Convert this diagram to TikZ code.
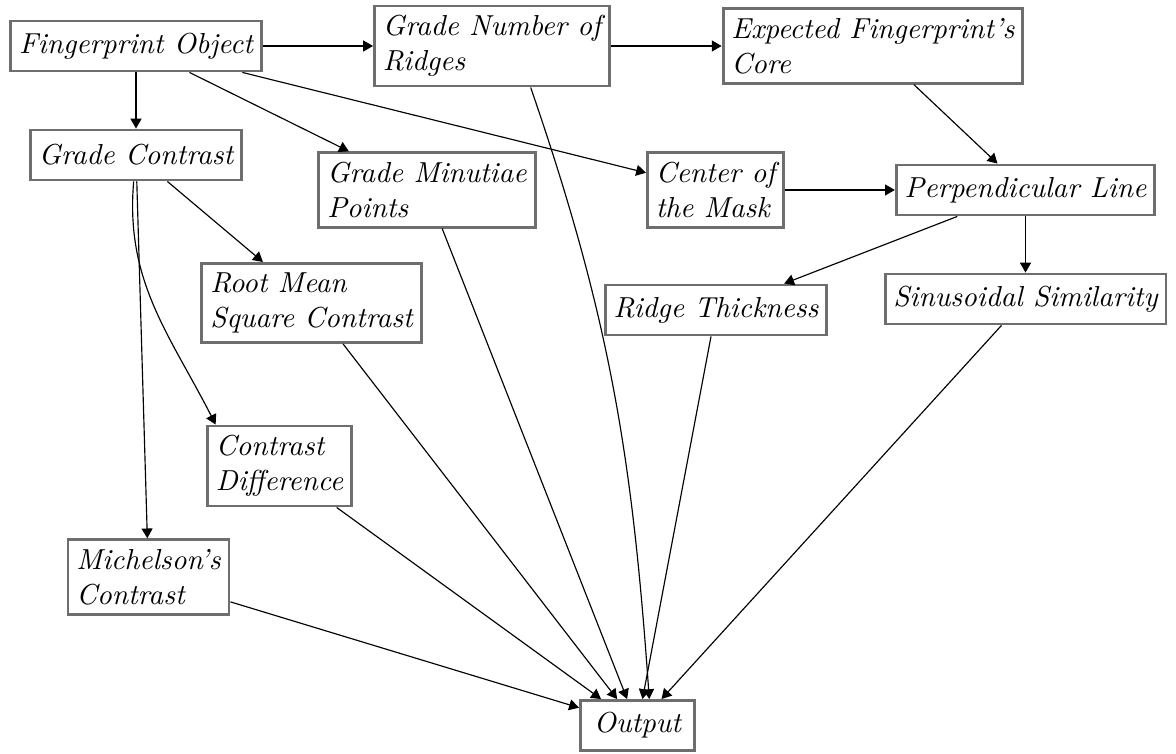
\documentclass[tikz,border=0pt]{standalone}
\usepackage{tikz}
\usetikzlibrary{arrows.meta}
\definecolor{boxgray}{RGB}{110,110,110}

\begin{document}
\begin{tikzpicture}[x=0.346pt,y=-0.346pt,font=\itshape,
  block/.style={rectangle,draw=boxgray,line width=1pt,align=left,inner xsep=2.9pt,inner ysep=3.3pt,minimum height=17.3pt},
  arrow/.style={-{Triangle[length=3.4pt,width=3.8pt]},line width=0.4pt}
]
\useasboundingbox (0,0) rectangle (1176,754);
\node[block] (fpo) at (136,46) {Fingerprint Object};
\node[block] (gnr) at (492,46) {Grade Number of\\Ridges};
\node[block] (efc) at (873,46) {Expected Fingerprint's\\Core};
\node[block] (gc) at (136,155) {Grade Contrast};
\node[block] (gmp) at (427,190) {Grade Minutiae\\Points};
\node[block] (cm) at (715.5,190) {Center of\\the Mask};
\node[block] (pl) at (1025.5,190) {Perpendicular Line};
\node[block] (rms) at (311.5,303) {Root Mean\\Square Contrast};
\node[block] (rt) at (716,310) {Ridge Thickness};
\node[block] (ss) at (1025.5,299) {Sinusoidal Similarity};
\node[block] (cd) at (279.5,466) {Contrast\\Difference};
\node[block] (mc) at (148.5,577) {Michelson's\\Contrast};
\node[block,minimum width=39.5pt] (out) at (637.5,725.5) {Output};
\draw[arrow] (fpo) -- (gnr);
\draw[arrow] (gnr) -- (efc);
\draw[arrow] (fpo) -- (gc);
\draw[arrow] (fpo) -- (gmp);
\draw[arrow] (fpo) -- (cm);
\draw[arrow] (efc) -- (pl);
\draw[arrow] (cm) -- (pl);
\draw[arrow] (pl) -- (rt);
\draw[arrow] (pl) -- (ss);
\draw[arrow] (gc) -- (rms);
\draw[arrow] (gc.-95) to[out=-95,in=117] (cd.147);
\draw[arrow] (gc) -- (mc);
\draw[arrow] (gnr.-47) to[out=-71,in=94] (out.66);
\draw[arrow] (gmp) -- (out);
\draw[arrow] (rms) -- (out);
\draw[arrow] (cd) -- (out);
\draw[arrow] (mc) -- (out);
\draw[arrow] (rt) -- (out);
\draw[arrow] (ss) -- (out);
\end{tikzpicture}
\end{document}
